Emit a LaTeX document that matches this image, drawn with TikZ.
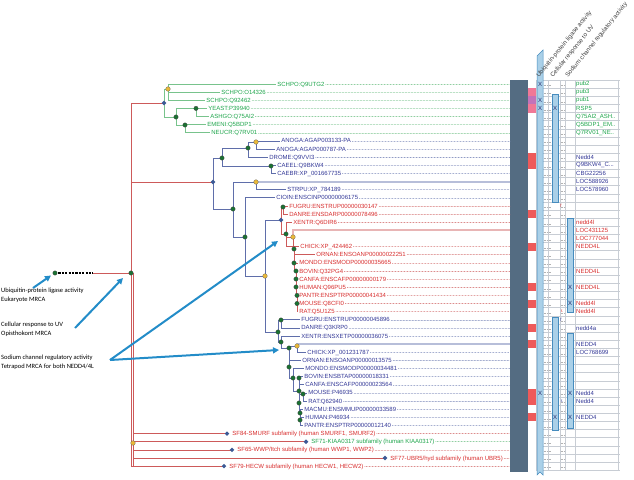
\documentclass[tikz,border=0pt]{standalone}
\usepackage{fontspec}
\setmainfont{Liberation Sans}
\newfontfamily\notefont{Carlito}
\usetikzlibrary{arrows.meta,positioning,shapes.geometric,calc}

\definecolor{fungln}{RGB}{120,195,140}
\definecolor{fungtx}{RGB}{30,165,75}
\definecolor{metaln}{RGB}{95,110,170}
\definecolor{metatx}{RGB}{50,55,150}
\definecolor{redln}{RGB}{205,90,90}
\definecolor{redtx}{RGB}{215,45,45}
\definecolor{ndgreen}{RGB}{25,115,50}
\definecolor{ndyellow}{RGB}{235,185,55}
\definecolor{ndblue}{RGB}{60,90,150}
\definecolor{barslate}{RGB}{84,108,130}
\definecolor{sqred}{RGB}{238,90,90}
\definecolor{sqpink}{RGB}{240,120,150}
\definecolor{sqmauve}{RGB}{195,115,185}
\definecolor{colfill}{RGB}{170,208,232}
\definecolor{coledge}{RGB}{70,140,190}
\definecolor{gridgrey}{RGB}{200,205,212}
\definecolor{callblue}{RGB}{35,140,200}
\newcommand{\trdots}{...}
\newcommand{\twodots}{..}

\begin{document}
\begin{tikzpicture}[x=1pt, y=-1pt, >=Stealth,
  leaf/.style={anchor=west, inner sep=1.2pt, font=\fontsize{6}{7}\selectfont, text height=4.3pt, text depth=0.3pt},
  fleaf/.style={leaf, text=fungtx},
  mleaf/.style={leaf, text=metatx},
  rleaf/.style={leaf, text=redtx},
  fline/.style={draw=fungln, line width=0.8pt},
  mline/.style={draw=metaln, line width=0.8pt},
  rline/.style={draw=redln, line width=0.8pt},
  fdot/.style={draw=fungln, line width=0.5pt, line cap=round, dash pattern=on 0.2pt off 1.3pt},
  mdot/.style={draw=metaln!85, line width=0.5pt, line cap=round, dash pattern=on 0.2pt off 1.3pt},
  rdot/.style={draw=redln!85, line width=0.5pt, line cap=round, dash pattern=on 0.2pt off 1.3pt},
  thickm/.style={draw=metaln!45, line width=1.8pt},
  thickr/.style={draw=redln!45, line width=1.8pt},
  gnode/.style={circle, draw=black!75, fill=ndgreen, line width=0.3pt, inner sep=0pt, minimum size=4.4pt},
  ynode/.style={circle, draw=black!60, fill=ndyellow, line width=0.3pt, inner sep=0pt, minimum size=4.6pt},
  dnode/.style={diamond, fill=ndblue, inner sep=0pt, minimum size=4.8pt},
  gridln/.style={draw=gridgrey, line width=0.5pt},
  colbar/.style={fill=colfill, draw=coledge, line width=0.5pt},
  xmark/.style={font=\fontsize{6}{6}\selectfont, text=metatx!70!black, inner sep=0pt},
  tinymark/.style={font=\fontsize{4.5}{5}\selectfont, inner sep=0pt},
  rlab/.style={anchor=west, inner sep=0pt, font=\fontsize{6}{7}\selectfont},
  hdr/.style={anchor=base west, rotate=51, inner sep=0pt, font=\fontsize{6.2}{6.5}\selectfont, text=black!75},
  note/.style={anchor=west, align=left, inner sep=0pt, font=\notefont\fontsize{6.5}{8.7}\selectfont},
  callarrow/.style={draw=callblue, line width=2pt, -{Triangle[length=6pt, width=6pt]}}
]
\useasboundingbox (0,0) rectangle (634,479);

% tree nodes
\coordinate (euk) at (55,273);   \coordinate (dashend) at (93,273);
\coordinate (opi) at (131,273);  \coordinate (famtop) at (133,273);
\coordinate (fam) at (133,443);
\coordinate (fun) at (164,103);  \coordinate (sch) at (168,89);
\coordinate (asc) at (176,117);  \coordinate (sac) at (196,108.4);
\coordinate (pez) at (185,125);
\coordinate (met) at (213,182);  \coordinate (prot) at (222,158);
\coordinate (arth) at (248,148); \coordinate (anog) at (256,142);
\coordinate (nem) at (271,166);  \coordinate (deut) at (233,209);
\coordinate (echi) at (256,182); \coordinate (chor) at (245,237);
\coordinate (vert) at (265,276);
\coordinate (nfl) at (281,220);  \coordinate (fishL) at (283,207);
\coordinate (tetL) at (286,234); \coordinate (amnL) at (293,237);
\coordinate (cLa) at (294,249);  \coordinate (cLb) at (294,263);
\coordinate (cLc) at (296,271);  \coordinate (cLd) at (296,279);
\coordinate (cLe) at (296,287);  \coordinate (cLf) at (297,295.4);
\coordinate (cLg) at (297,303.5);
\coordinate (nf) at (278,332);   \coordinate (fishN) at (281,320);
\coordinate (tetN) at (281,342); \coordinate (amnN) at (289,348);
\coordinate (birdN) at (297,346);\coordinate (mamN) at (289,367);
\coordinate (therN) at (293,378);\coordinate (euthN) at (299,391);
\coordinate (bcN) at (299,378);  \coordinate (euaN) at (299,403);
\coordinate (rodN) at (303,394); \coordinate (priN) at (300,413);
\coordinate (homN) at (300,420);
\coordinate (dA) at (227,433.6); \coordinate (dB) at (306,441.7);
\coordinate (dC) at (232,449.9); \coordinate (dD) at (385,458.0);
\coordinate (dE) at (224,466.1);
\coordinate (tkR) at (510,230.3); \coordinate (tkB) at (510,344.2);

\node[fill=barslate, inner sep=0pt, minimum width=18pt, minimum height=392pt, anchor=north west] (bar) at (510,80) {};

% leaves
\foreach \nm/\pa/\xx/\yy/\tx in {
  l0/sch/276/84.0/SCHPO:Q9UTG2,
  l1/sch/220/92.1/SCHPO:O14326,
  l2/sch/205/100.3/SCHPO:Q92462,
  l3/sac/207/108.4/YEAST:P39940,
  l4/sac/209/116.5/ASHGO:Q75AI2,
  l5/pez/206/124.7/EMENI:Q5BDP1,
  l6/pez/210/132.8/NEUCR:Q7RV01}{
  \node[fleaf] (\nm) at (\xx,\yy) {\tx};
  \draw[fline] (\pa) |- (\nm.west);
  \draw[fdot] (\nm.east) -- (\nm.east -| bar.west);
}
\foreach \nm/\pa/\xx/\yy/\tx in {
  l7/anog/280/140.9/ANOGA:AGAP003133-PA,
  l8/anog/275/149.0/ANOGA:AGAP000787-PA,
  l9/arth/268/157.2/DROME:Q9VVI3,
  l10/nem/276/165.3/CAEEL:Q9BKW4,
  l11/nem/276/173.4/CAEBR:XP\_001667735,
  l13/echi/286/189.7/STRPU:XP\_784189,
  l14/chor/275/197.8/CIOIN:ENSCINP00000006175,
  l29/fishN/300/319.8/FUGRU:ENSTRUP00000045896,
  l30/fishN/300/327.9/DANRE:Q3KRP0,
  l31/tetN/300/336.0/XENTR:ENSXETP00000036075,
  l33/birdN/306/352.3/CHICK:XP\_001231787,
  l34/mamN/301/360.4/ORNAN:ENSOANP00000013575,
  l35/therN/304/368.6/MONDO:ENSMODP00000034481,
  l36/bcN/303/376.7/BOVIN:ENSBTAP00000018331,
  l37/bcN/304/384.8/CANFA:ENSCAFP00000023564,
  l38/rodN/307/392.9/MOUSE:P46935,
  l39/rodN/307/401.1/RAT:Q62940,
  l40/priN/303/409.2/MACMU:ENSMMUP00000033589,
  l41/homN/304/417.3/HUMAN:P46934,
  l42/homN/303/425.5/PANTR:ENSPTRP00000012140}{
  \node[mleaf] (\nm) at (\xx,\yy) {\tx};
  \draw[mline] (\pa) |- (\nm.west);
  \draw[mdot] (\nm.east) -- (\nm.east -| bar.west);
}
\foreach \nm/\pa/\xx/\yy/\tx in {
  l15/fishL/288/206.0/FUGRU:ENSTRUP00000030147,
  l16/fishL/288/214.1/DANRE:ENSDARP00000078496,
  l17/tetL/292/222.2/XENTR:Q6DIR6,
  l20/tetL/299/246.6/CHICK:XP\_424462,
  l21/cLa/315/254.7/ORNAN:ENSOANP00000022251,
  l22/cLb/298/262.9/MONDO:ENSMODP00000035665,
  l23/cLc/298/271.0/BOVIN:Q32PG4,
  l24/cLd/298/279.1/CANFA:ENSCAFP00000000179,
  l25/cLe/298/287.3/HUMAN:Q96PU5,
  l26/cLf/298/295.4/PANTR:ENSPTRP00000041434,
  l27/cLg/298/303.5/MOUSE:Q8CFI0,
  l28/cLg/298/311.6/RAT:Q5U1Z5}{
  \node[rleaf] (\nm) at (\xx,\yy) {\tx};
  \draw[rline] (\pa) |- (\nm.west);
  \draw[rdot] (\nm.east) -- (\nm.east -| bar.west);
}

% subfamilies
\node[rleaf, right=4pt of dA] (sA) {SF84-SMURF subfamily (human SMURF1, SMURF2)};
\node[fleaf, right=4pt of dB] (sB) {SF71-KIAA0317 subfamily (human KIAA0317)};
\node[rleaf, right=4pt of dC] (sC) {SF65-WWP/Itch subfamily (human WWP1, WWP2)};
\node[rleaf, right=4pt of dD] (sD) {SF77-UBR5/hyd subfamily (human UBR5)};
\node[rleaf, right=4pt of dE] (sE) {SF79-HECW subfamily (human HECW1, HECW2)};
\foreach \s in {sA,sC,sD,sE} \draw[rdot] (\s.east) -- (\s.east -| bar.west);
\draw[fdot] (sB.east) -- (sB.east -| bar.west);

% inner branches
\draw[black, line width=1.3pt, dash pattern=on 2.2pt off 1.2pt] (euk) -- (dashend);
\draw[rline] (dashend) -- (opi);
\draw[rline] (opi) |- (fun);
\draw[rline] (opi) |- (met);
\draw[rline] (opi) |- (fam);
\draw[rline] (opi) |- (dE);
\draw[rline] (famtop) -- (fam);
\foreach \d in {dA,dB,dC,dD,dE} \draw[rline] (fam) |- (\d);
\draw[fline] (fun) |- (sch);  \draw[fline] (fun) |- (asc);
\draw[fline] (asc) |- (sac);  \draw[fline] (asc) |- (pez);
\draw[mline] (met) |- (prot); \draw[mline] (met) |- (deut);
\draw[mline] (prot) |- (arth);\draw[mline] (prot) |- (nem);
\draw[mline] (arth) |- (anog);
\draw[mline] (deut) |- (echi);\draw[mline] (deut) |- (chor);
\draw[mline] (chor) |- (vert);
\draw[mline] (vert) |- (nfl); \draw[mline] (vert) |- (nf);
\draw[rline] (nfl) |- (fishL);\draw[rline] (nfl) |- (tetL);
\draw[rline] (tetL) |- (amnL);\draw[rline] (amnL) |- (cLa);
\draw[rline] (cLa) |- (cLb);  \draw[rline] (cLb) |- (cLc);
\draw[rline] (cLc) |- (cLd);  \draw[rline] (cLd) |- (cLe);
\draw[rline] (cLe) |- (cLf);  \draw[rline] (cLf) |- (cLg);
\draw[mline] (nf) |- (fishN); \draw[mline] (nf) |- (tetN);
\draw[mline] (tetN) |- (amnN);\draw[mline] (amnN) |- (birdN);
\draw[mline] (amnN) |- (mamN);\draw[mline] (mamN) |- (therN);
\draw[mline] (therN) |- (euthN);
\draw[mline] (euthN) |- (bcN);\draw[mline] (euthN) |- (euaN);
\draw[mline] (euaN) |- (rodN);\draw[mline] (euaN) |- (priN);
\draw[mline] (priN) |- (homN);
\draw[thickm] (echi) -- (echi -| bar.west);
\draw[thickr] (amnL) |- (tkR);
\draw[thickm] (birdN) |- (tkB);

% node markers
\foreach \c in {euk,opi,asc,sac,pez,prot,arth,nem,deut,chor,fishL,tetL,cLa,cLb,cLc,cLd,cLe,cLf,cLg,nf,fishN,tetN,amnN,mamN,therN,euthN,bcN,euaN,rodN,priN,homN}
  \node[gnode] at (\c) {};
\foreach \c in {sch,anog,echi,vert,amnL,birdN,fam}
  \node[ynode] at (\c) {};
\foreach \c in {fun,met,nfl,dA,dB,dC,dD,dE}
  \node[dnode] at (\c) {};

% annotation table
\foreach \r/\c in {1/sqpink,2/sqmauve,3/sqpink,9/sqred,10/sqred,16/sqred,20/sqred,25/sqred,27/sqred,30/sqred,32/sqred,38/sqred,39/sqred,41/sqred}
  \fill[\c] (528,{80+8.13*\r}) rectangle (536,{88.13+8.13*\r});
\foreach \r in {0,...,48}
  \draw[gridln] (536,{80+8.13*\r}) -- (620,{80+8.13*\r});
\foreach \x in {536,548,560,565,575,618}
  \draw[gridln] (\x,80) -- (\x,470.2);
\foreach \r in {0,...,47}{
  \draw[gray!60, line width=0.4pt, dash pattern=on 0.5pt off 0.8pt] (544,{85.5+8.13*\r}) -- (547.5,{85.5+8.13*\r});
  \draw[gray!60, line width=0.4pt, dash pattern=on 0.5pt off 0.8pt] (549,{85.5+8.13*\r}) -- (551.5,{85.5+8.13*\r});
  \draw[gray!60, line width=0.4pt, dash pattern=on 0.5pt off 0.8pt] (561,{85.5+8.13*\r}) -- (564.5,{85.5+8.13*\r});
}
\filldraw[colbar] (537,56) -- (543,50) -- (543,475) -- (540,472) -- (537,475) -- cycle;
\filldraw[colbar] (552,94) rectangle (558,202);
\filldraw[colbar] (552,317) rectangle (558,430);
\filldraw[colbar] (567,218) rectangle (573,312);
\filldraw[colbar] (567,333) rectangle (573,428);
\foreach \x/\r in {540/0,540/2,540/3,540/38,555/3,555/41,570/25,570/27,570/38,570/41}
  \node[xmark] at (\x,{84+8.13*\r}) {X};
\node[tinymark, text=redtx] at (561,206.0) {f};
\node[tinymark, text=redtx] at (562,311.6) {r.};
\node[tinymark, text=metatx] at (561,319.8) {f};
\node[tinymark, text=metatx] at (562,401.1) {r.};
\foreach \r/\tx/\c in {0/pub2/fungtx,1/pub3/fungtx,2/pub1/fungtx,3/RSP5/fungtx,
  4/Q75AI2\_ASH\twodots/fungtx,5/Q5BDP1\_EM\twodots/fungtx,6/Q7RV01\_NE\twodots/fungtx,
  9/Nedd4/metatx,10/Q9BKW4\_C\trdots/metatx,11/CBG22256/metatx,12/LOC588926/metatx,13/LOC578960/metatx,
  17/nedd4l/redtx,18/LOC431125/redtx,19/LOC777044/redtx,20/NEDD4L/redtx,23/NEDD4L/redtx,
  25/NEDD4L/redtx,27/Nedd4l/redtx,28/Nedd4l/redtx,
  30/nedd4a/metatx,32/NEDD4/metatx,33/LOC768699/metatx,38/Nedd4/metatx,39/Nedd4/metatx,41/NEDD4/metatx}
  \node[rlab, text=\c] at (576,{84+8.13*\r}) {\tx};
\node[hdr] (hubq) at (539,78) {Ubiquitin-protein ligase activity};
\node[hdr] (huv) at (553,78) {Cellular response to UV};
\node[hdr] (hsod) at (568,78) {Sodium channel regulatory activity};

% call-outs
\node[note] (ubq) at (1,295) {Ubiquitin-protein ligase activity\\Eukaryote MRCA};
\node[note] (uv) at (1,329.5) {Cellular response to UV\\Opisthokont MRCA};
\node[note] (sod) at (1,362) {Sodium channel regulatory activity\\Tetrapod MRCA for both NEDD4/4L};
\coordinate (a1s) at (33,288);  \coordinate (a1e) at (51,275.5);
\coordinate (a2s) at (75,328);  \coordinate (a2e) at (123,278);
\coordinate (a3s) at (110,360); \coordinate (a3e) at (278,241);
\coordinate (a3f) at (279,350);
\draw[callarrow] (a1s) -- (a1e);
\draw[callarrow] (a2s) -- (a2e);
\draw[callarrow] (a3s) -- (a3e);
\draw[callarrow] (a3s) -- (a3f);
\end{tikzpicture}
\end{document}
